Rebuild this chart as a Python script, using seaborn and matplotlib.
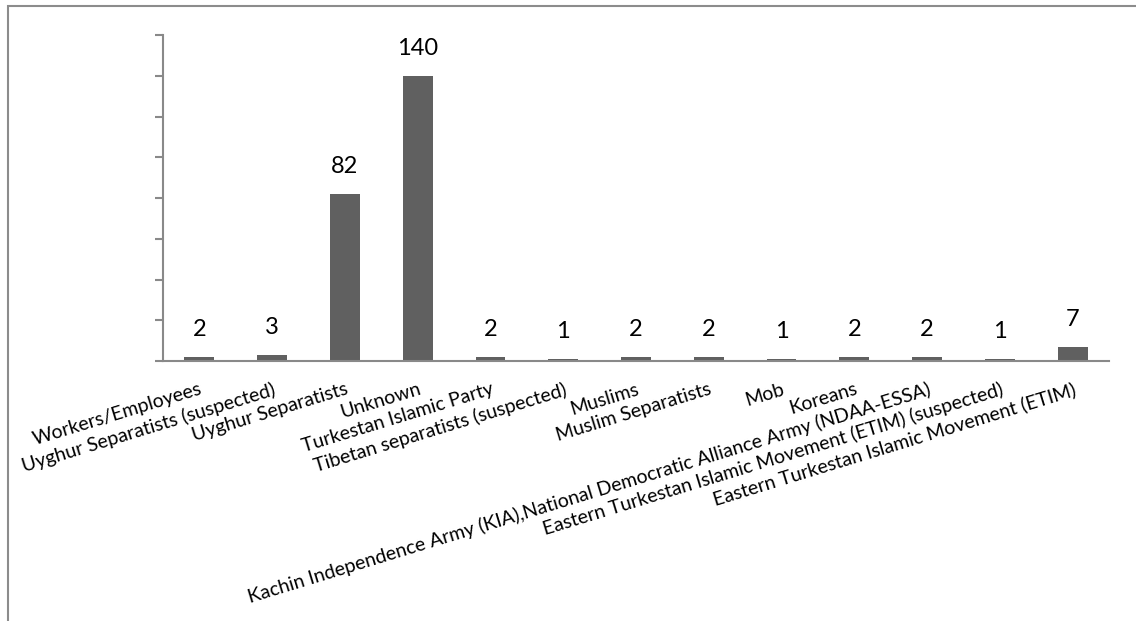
import matplotlib
matplotlib.use("Agg")
import matplotlib.pyplot as plt
import seaborn as sns
import pandas as pd
from matplotlib.patches import Rectangle

categories = [
    "Workers/Employees",
    "Uyghur Separatists (suspected)",
    "Uyghur Separatists",
    "Unknown",
    "Turkestan Islamic Party",
    "Tibetan separatists (suspected)",
    "Muslims",
    "Muslim Separatists",
    "Mob",
    "Koreans",
    "Kachin Independence Army (KIA),National Democratic Alliance Army (NDAA-ESSA)",
    "Eastern Turkestan Islamic Movement (ETIM) (suspected)",
    "Eastern Turkestan Islamic Movement (ETIM)",
]
values = [2, 3, 82, 140, 2, 1, 2, 2, 1, 2, 2, 1, 7]

sns.set_theme(style="white")
plt.rcParams["font.family"] = ["Lato", "DejaVu Sans"]

W, H = 1136, 621
fig = plt.figure(figsize=(W / 100, H / 100), dpi=100)
ax = fig.add_axes([163 / W, 1 - 361 / H, (1109 - 163) / W, (361 - 35) / H])

df = pd.DataFrame({"group": categories, "count": values})
sns.barplot(data=df, x="group", y="count", color="#606060", saturation=1,
            width=0.41, ax=ax, edgecolor="none")

ax.set_xlim(-0.5, len(categories) - 0.5)
ax.set_ylim(0, 160)
ax.set_yticks(range(0, 161, 20))
ax.set_yticklabels([])
ax.set_xlabel("")
ax.set_ylabel("")

spine_col = "#898989"
for s in ["top", "right"]:
    ax.spines[s].set_visible(False)
for s in ["left", "bottom"]:
    ax.spines[s].set_color(spine_col)
    ax.spines[s].set_linewidth(1.5)

ax.tick_params(axis="y", which="both", left=True, length=6, width=1.5,
               color=spine_col, direction="out")
ax.tick_params(axis="x", length=0, pad=14)
for lbl in ax.get_xticklabels():
    lbl.set_rotation(17)
    lbl.set_ha("right")
    lbl.set_va("top")
    lbl.set_rotation_mode("anchor")
    lbl.set_fontsize(14)
    lbl.set_color("black")

for container in ax.containers:
    ax.bar_label(container, labels=[str(v) for v in values], padding=12,
                 fontsize=17, color="black")

# outer chart-area frame (left and top edges visible)
fig.add_artist(Rectangle((8 / W, -0.1), 1.2, 1.1 - 6 / H, transform=fig.transFigure,
                         fill=False, edgecolor="#8c8c8c", linewidth=1.5,
                         clip_on=False))

fig.savefig("out.png", dpi=100, facecolor="white")
